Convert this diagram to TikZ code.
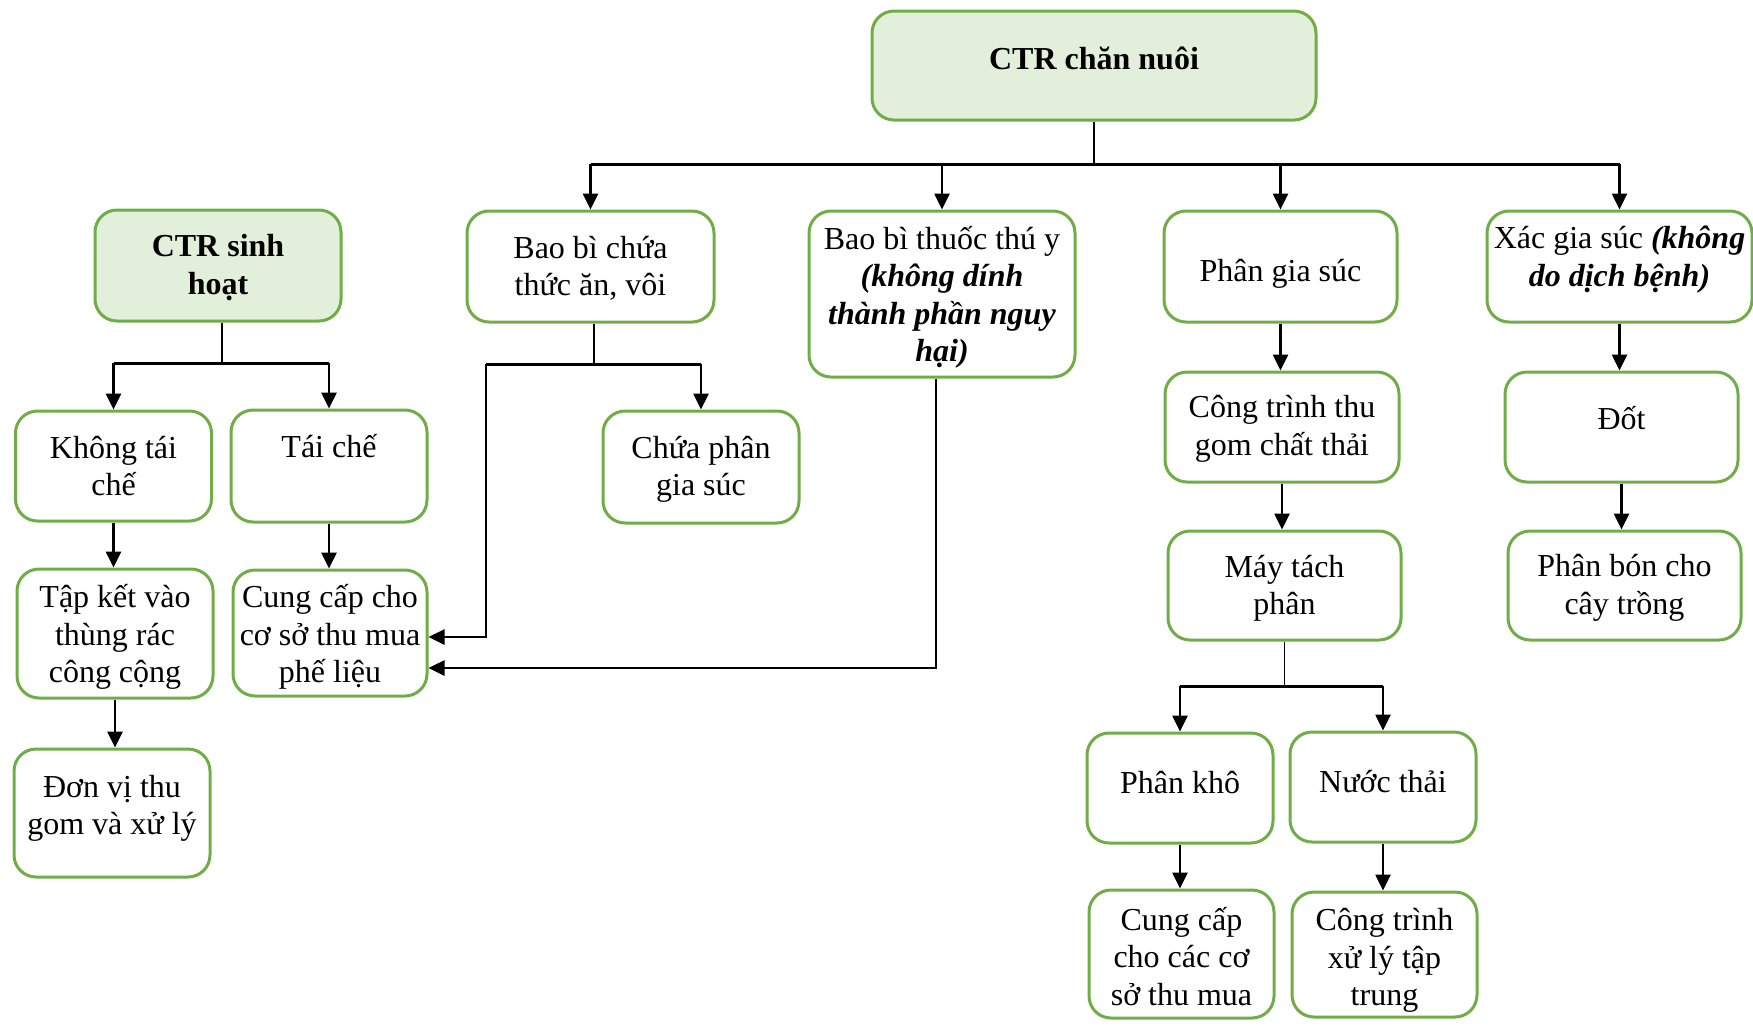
\documentclass[tikz,border=0pt]{standalone}
\usepackage{fontspec}
\setmainfont{Liberation Serif}
\usetikzlibrary{arrows.meta}
\definecolor{boxgreen}{HTML}{70AD47}
\definecolor{boxfill}{HTML}{E2EFDA}
% adds depth below the last line, lifting the text inside its box by half the amount
\newcommand\liftup[1]{\rule[-#1]{0pt}{#1}}
% adds height above the first line, lowering the text inside its box by half the amount
\newcommand\dropdown[2]{\raisebox{0pt}[\dimexpr\height+#1\relax]{#2}}

\begin{document}
\begin{tikzpicture}[x=0.5pt,y=-0.5pt,
  box/.style={draw=boxgreen, line width=1.5pt, rounded corners=11pt, fill=white,
    align=center, inner sep=2pt, font=\fontsize{16}{18.8}\selectfont},
  head/.style={box, fill=boxfill, font=\fontsize{16}{19}\selectfont\bfseries},
  arr/.style={line width=1.3pt, -{Triangle[length=8pt,width=7.5pt]}},
  stem/.style={line width=0.75pt},
  bus/.style={line width=1.5pt}]
\useasboundingbox (0,0) rectangle (1753,1025);

% boxes
\node[head, minimum width=222pt, minimum height=54.5pt] (root) at (1094,65.5) {CTR chăn nuôi\liftup{7.5pt}};
\node[head, minimum width=123pt, minimum height=55.5pt] (sh) at (218,265.5) {\dropdown{2.2pt}{CTR sinh}\\hoạt};
\node[box, minimum width=123.5pt, minimum height=55.5pt] (bbc) at (590.5,266.5) {\dropdown{1.7pt}{Bao bì chứa}\\thức ăn, vôi};
\node[box, minimum width=133pt, minimum height=83pt] (bbt) at (942,294) {\dropdown{3.4pt}{Bao bì thuốc thú y}\\\textbf{\textit{(không dính}}\\\textbf{\textit{thành phần nguy}}\\\textbf{\textit{hại)}}};
\node[box, minimum width=116.5pt, minimum height=55.5pt] (pgs) at (1280.5,266.5) {\dropdown{7.8pt}{Phân gia súc}};
\node[box, minimum width=132.5pt, minimum height=55.5pt] (xac) at (1619.5,266.5) {Xác gia súc \textbf{\textit{(không}}\\\textbf{\textit{do dịch bệnh)}}\liftup{10pt}};

\node[box, minimum width=98pt, minimum height=55pt] (ktc) at (113.5,466) {Không tái\\chế};
\node[box, minimum width=98pt, minimum height=56pt] (tc) at (329,466) {Tái chế\liftup{20pt}};
\node[box, minimum width=98pt, minimum height=64.5pt] (tk) at (115,633.5) {\dropdown{3.4pt}{Tập kết vào}\\thùng rác\\công cộng};
\node[box, minimum width=97pt, minimum height=63pt] (cc) at (330,633) {\dropdown{3.9pt}{Cung cấp cho}\\cơ sở thu mua\\phế liệu};
\node[box, minimum width=98pt, minimum height=64pt] (dv) at (112,813) {Đơn vị thu\\gom và xử lý\liftup{8pt}};
\node[box, minimum width=98pt, minimum height=56pt] (cp) at (701,467) {\dropdown{2.2pt}{Chứa phân}\\gia súc};

\node[box, minimum width=117pt, minimum height=55pt] (ctg) at (1282,427) {\dropdown{1.7pt}{Công trình thu}\\gom chất thải};
\node[box, minimum width=116.5pt, minimum height=54.5pt] (mt) at (1284.5,585.5) {\dropdown{2.8pt}{Máy tách}\\phân};
\node[box, minimum width=93pt, minimum height=55pt] (pk) at (1180,788) {Phân khô\liftup{5.8pt}};
\node[box, minimum width=93pt, minimum height=55pt] (nt) at (1383,787) {Nước thải\liftup{5.8pt}};
\node[box, minimum width=92.5pt, minimum height=64pt] (ccc) at (1181.5,954) {\dropdown{2.2pt}{Cung cấp}\\cho các cơ\\sở thu mua};
\node[box, minimum width=92.5pt, minimum height=62.5pt] (ctx) at (1384.5,954.5) {\dropdown{6.1pt}{Công trình}\\xử lý tập\\trung};
\node[box, minimum width=116.5pt, minimum height=55pt] (dot) at (1621.5,427) {Đốt\liftup{9pt}};
\node[box, minimum width=116.5pt, minimum height=54.5pt] (pb) at (1624.5,585.5) {\dropdown{2.2pt}{Phân bón cho}\\cây trồng};

% main fan-out
\coordinate (rootbus) at (1092,164);
\draw[stem] (root.south) -- (root.south |- rootbus);
\draw[bus] (bbc.north |- rootbus) -- (xac.north |- rootbus);
\foreach \n in {bbc,bbt,pgs,xac} \draw[arr] (\n.north |- rootbus) -- (\n.north);

% household waste branch
\coordinate (shbus) at (222,363);
\draw[stem] ([xshift=2pt]sh.south) -- ([xshift=2pt]sh.south |- shbus);
\draw[bus] (ktc.north |- shbus) -- (tc.north |- shbus);
\draw[arr] (ktc.north |- shbus) -- (ktc.north);
\draw[arr] (tc.north |- shbus) -- (tc.north);
\draw[arr] (ktc.south) -- (ktc.south |- tk.north);
\draw[arr] (tc.south) -- (tc.south |- cc.north);
\draw[arr] (tk.south) -- (tk.south |- dv.north);

% feed packaging branch
\coordinate (bbcbus) at (594,364);
\coordinate (bbcleft) at (486,364);
\draw[stem] ([xshift=1.75pt]bbc.south) -- ([xshift=1.75pt]bbc.south |- bbcbus);
\draw[bus] (bbcleft) -- (cp.north |- bbcbus);
\draw[arr] (cp.north |- bbcbus) -- (cp.north);
\draw[arr] (bbcleft) |- ([yshift=-2pt]cc.east);

% veterinary packaging
\draw[arr] ([xshift=-3pt]bbt.south) |- ([yshift=-17.5pt]cc.east);

% manure chain
\draw[arr] (pgs.south) -- (pgs.south |- ctg.north);
\draw[arr] (ctg.south) -- (ctg.south |- mt.north);
\coordinate (mtbus) at (1283,686);
\draw[stem] (mt.south) -- (mt.south |- mtbus);
\draw[bus] (pk.north |- mtbus) -- (nt.north |- mtbus);
\draw[arr] (pk.north |- mtbus) -- (pk.north);
\draw[arr] (nt.north |- mtbus) -- (nt.north);
\draw[arr] (pk.south) -- (pk.south |- ccc.north);
\draw[arr] (nt.south) -- (nt.south |- ctx.north);

% carcass chain
\draw[arr] (xac.south) -- (xac.south |- dot.north);
\draw[arr] (dot.south) -- (dot.south |- pb.north);
\end{tikzpicture}
\end{document}
